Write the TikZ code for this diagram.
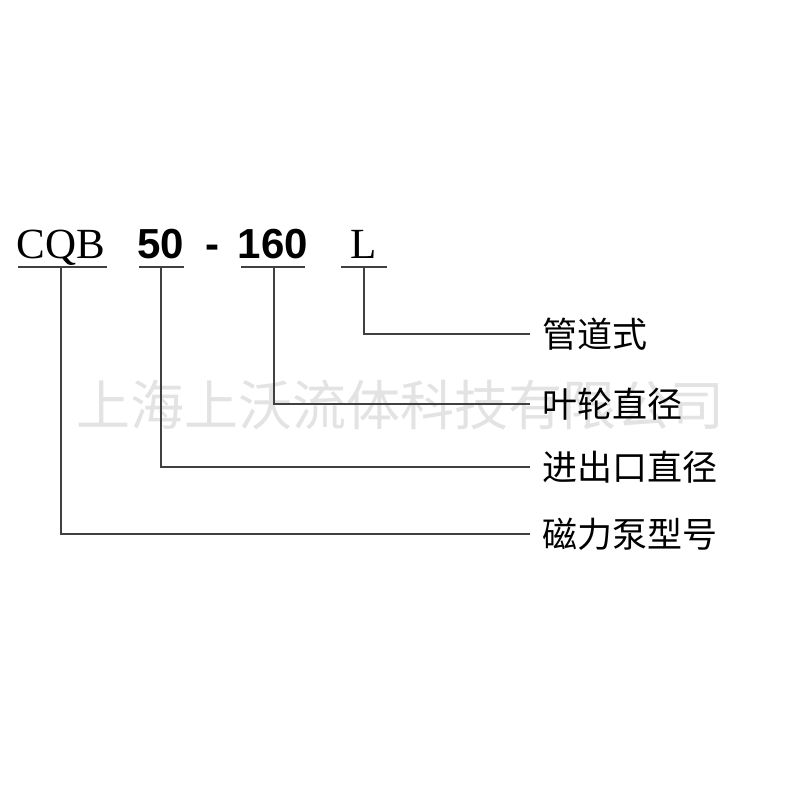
\documentclass[tikz,border=0pt]{standalone}
\usepackage{fontspec}
\setmainfont{Liberation Serif}
\newfontfamily\cjk{Noto Sans CJK SC}
\newfontfamily\sansb{Liberation Sans}
\begin{document}
\begin{tikzpicture}[x=1pt,y=-1pt,
  codeser/.style={inner sep=0pt,anchor=base,font=\fontsize{43}{48}\selectfont},
  codesans/.style={inner sep=0pt,anchor=base,font=\sansb\bfseries\fontsize{42}{46}\selectfont},
  lbl/.style={inner xsep=12pt,inner ysep=0pt,anchor=west,font=\cjk\fontsize{35}{40}\selectfont},
  ln/.style={line width=2.8pt,draw=black!75},
  wm/.style={inner sep=0pt,text=black!11,font=\cjk\fontsize{54}{60}\selectfont}]
\useasboundingbox[fill=white] (0,0) rectangle (800,800);
% watermark
\node[wm] (wmk) at (400,405) {上海上沃流体科技有限公司};
% code
\node[codeser] (cqb) at (61,258) {CQB};
\node[codesans] (n50) at (161,258) {50};
\node[codesans] (dash) at (212,258) {-};
\node[codesans] (n160) at (273,258) {160};
\node[codeser] (nL) at (364,258) {L};
% underline coordinates
\coordinate (a1) at (18,267);  \coordinate (a2) at (107,267); \coordinate (ua) at (61,267);
\coordinate (b1) at (139,267); \coordinate (b2) at (184,267); \coordinate (ub) at (161,267);
\coordinate (c1) at (241,267); \coordinate (c2) at (305,267); \coordinate (uc) at (274,267);
\coordinate (d1) at (341,267); \coordinate (d2) at (387,267); \coordinate (ud) at (364,267);
\draw[ln] (a1) -- (a2);
\draw[ln] (b1) -- (b2);
\draw[ln] (c1) -- (c2);
\draw[ln] (d1) -- (d2);
% labels
\node[lbl] (t4) at (530,334) {管道式};
\node[lbl] (t3) at (530,404) {叶轮直径};
\node[lbl] (t2) at (530,467) {进出口直径};
\node[lbl] (t1) at (530,534) {磁力泵型号};
% connectors
\draw[ln] (ud) |- (t4.west);
\draw[ln] (uc) |- (t3.west);
\draw[ln] (ub) |- (t2.west);
\draw[ln] (ua) |- (t1.west);
\end{tikzpicture}
\end{document}
